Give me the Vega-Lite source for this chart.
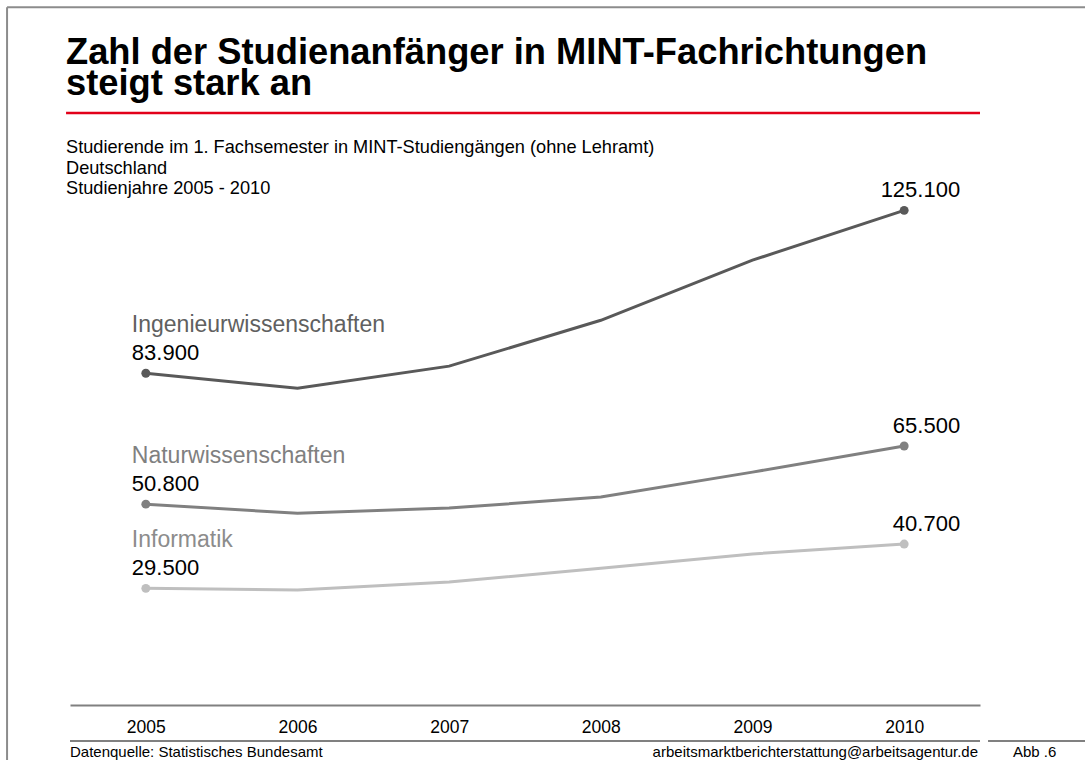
{
  "$schema": "https://vega.github.io/schema/vega-lite/v6.json",
  "width": 910,
  "height": 514,
  "autosize": {"type": "none"},
  "padding": {"left": 70, "top": 191, "right": 105, "bottom": 55},
  "background": "white",
  "config": {
    "view": {"stroke": null},
    "font": "Liberation Sans",
    "locale": {"number": {"decimal": ",", "thousands": ".", "grouping": [3], "currency": ["", " €"]}}
  },
  "title": {
    "text": ["Zahl der Studienanfänger in MINT-Fachrichtungen", "steigt stark an"],
    "subtitle": ["Studierende im 1. Fachsemester in MINT-Studiengängen (ohne Lehramt)", "Deutschland", "Studienjahre 2005 - 2010"],
    "anchor": "start",
    "frame": "group",
    "font": "Liberation Sans",
    "fontSize": 36.3,
    "fontWeight": "bold",
    "color": "#000000",
    "lineHeight": 31.5,
    "subtitleFont": "Liberation Sans",
    "subtitleFontSize": 18.2,
    "subtitleColor": "#000000",
    "subtitleLineHeight": 20.3,
    "subtitlePadding": 37,
    "offset": -191,
    "dx": -4
  },
  "data": {
    "values": [
      {"series": "Ingenieurwissenschaften", "year": 2005, "value": 83900},
      {"series": "Ingenieurwissenschaften", "year": 2006, "value": 80100},
      {"series": "Ingenieurwissenschaften", "year": 2007, "value": 85700},
      {"series": "Ingenieurwissenschaften", "year": 2008, "value": 97300},
      {"series": "Ingenieurwissenschaften", "year": 2009, "value": 112500},
      {"series": "Ingenieurwissenschaften", "year": 2010, "value": 125100},
      {"series": "Naturwissenschaften", "year": 2005, "value": 50800},
      {"series": "Naturwissenschaften", "year": 2006, "value": 48500},
      {"series": "Naturwissenschaften", "year": 2007, "value": 49800},
      {"series": "Naturwissenschaften", "year": 2008, "value": 52600},
      {"series": "Naturwissenschaften", "year": 2009, "value": 58900},
      {"series": "Naturwissenschaften", "year": 2010, "value": 65500},
      {"series": "Informatik", "year": 2005, "value": 29500},
      {"series": "Informatik", "year": 2006, "value": 29100},
      {"series": "Informatik", "year": 2007, "value": 31100},
      {"series": "Informatik", "year": 2008, "value": 34600},
      {"series": "Informatik", "year": 2009, "value": 38200},
      {"series": "Informatik", "year": 2010, "value": 40700}
    ]
  },
  "resolve": {"scale": {"color": "independent"}},
  "layer": [
    {
      "mark": {"type": "line", "strokeWidth": 3},
      "encoding": {
        "x": {"field": "year", "type": "quantitative", "scale": {"domain": [2004.5, 2010.5], "nice": false, "zero": false},
          "axis": {"values": [2005, 2006, 2007, 2008, 2009, 2010], "format": "d", "title": null, "grid": false, "ticks": false,
            "domainColor": "#808080", "domainWidth": 2, "labelFontSize": 17.5, "labelColor": "#000000", "labelFont": "Liberation Sans", "labelPadding": 13}},
        "y": {"field": "value", "type": "quantitative", "scale": {"domain": [0, 130000], "nice": false}, "axis": null},
        "color": {"field": "series", "type": "nominal", "scale": {"domain": ["Ingenieurwissenschaften", "Naturwissenschaften", "Informatik"], "range": ["#595959", "#808080", "#bfbfbf"]}, "legend": null}
      }
    },
    {
      "transform": [{"filter": "datum.year == 2005 || datum.year == 2010"}],
      "mark": {"type": "point", "filled": true, "size": 80, "opacity": 1},
      "encoding": {
        "x": {"field": "year", "type": "quantitative"},
        "y": {"field": "value", "type": "quantitative", "axis": null},
        "color": {"field": "series", "type": "nominal", "scale": {"domain": ["Ingenieurwissenschaften", "Naturwissenschaften", "Informatik"], "range": ["#595959", "#808080", "#bfbfbf"]}, "legend": null}
      }
    },
    {
      "transform": [{"filter": "datum.year == 2005"}],
      "mark": {"type": "text", "align": "left", "baseline": "middle", "dx": -14, "dy": -48, "fontSize": 23, "font": "Liberation Sans"},
      "encoding": {
        "x": {"field": "year", "type": "quantitative"},
        "y": {"field": "value", "type": "quantitative", "axis": null},
        "text": {"field": "series"},
        "color": {"field": "series", "type": "nominal", "scale": {"domain": ["Ingenieurwissenschaften", "Naturwissenschaften", "Informatik"], "range": ["#606060", "#808080", "#8c8c8c"]}, "legend": null}
      }
    },
    {
      "transform": [{"filter": "datum.year == 2005"}],
      "mark": {"type": "text", "align": "left", "baseline": "middle", "dx": -14, "dy": -20, "fontSize": 22, "font": "Liberation Sans", "color": "#000000"},
      "encoding": {
        "x": {"field": "year", "type": "quantitative"},
        "y": {"field": "value", "type": "quantitative", "axis": null},
        "text": {"field": "value", "type": "quantitative", "format": ",d"}
      }
    },
    {
      "transform": [{"filter": "datum.year == 2010"}],
      "mark": {"type": "text", "align": "right", "baseline": "middle", "dx": 56, "dy": -20, "fontSize": 22, "font": "Liberation Sans", "color": "#000000"},
      "encoding": {
        "x": {"field": "year", "type": "quantitative"},
        "y": {"field": "value", "type": "quantitative", "axis": null},
        "text": {"field": "value", "type": "quantitative", "format": ",d"}
      }
    },
    {
      "data": {"values": [{}]},
      "mark": {"type": "rule", "color": "#e2001a", "strokeWidth": 2.5},
      "encoding": {
        "x": {"datum": 2004.474},
        "x2": {"datum": 2010.5},
        "y": {"datum": 149700, "axis": null}
      }
    },
    {
      "data": {"values": [{}]},
      "mark": {"type": "rule", "color": "#8c8c8c", "strokeWidth": 2},
      "encoding": {
        "x": {"datum": 2004.085},
        "x2": {"datum": 2011.7},
        "y": {"datum": 176500, "axis": null}
      }
    },
    {
      "data": {"values": [{}]},
      "mark": {"type": "rule", "color": "#8c8c8c", "strokeWidth": 2},
      "encoding": {
        "x": {"datum": 2004.085},
        "y": {"datum": -20000, "axis": null},
        "y2": {"datum": 176500}
      }
    },
    {
      "data": {"values": [{}]},
      "mark": {"type": "rule", "color": "#808080", "strokeWidth": 2},
      "encoding": {
        "x": {"datum": 2004.5},
        "x2": {"datum": 2010.5},
        "y": {"datum": -9100, "axis": null}
      }
    },
    {
      "data": {"values": [{}]},
      "mark": {"type": "rule", "color": "#808080", "strokeWidth": 2},
      "encoding": {
        "x": {"datum": 2010.553},
        "x2": {"datum": 2011.7},
        "y": {"datum": -9100, "axis": null}
      }
    },
    {
      "data": {"values": [{}]},
      "mark": {"type": "text", "align": "left", "baseline": "middle", "fontSize": 15, "font": "Liberation Sans", "color": "#000000"},
      "encoding": {
        "x": {"datum": 2004.5},
        "y": {"datum": -12000, "axis": null},
        "text": {"value": "Datenquelle: Statistisches Bundesamt"}
      }
    },
    {
      "data": {"values": [{}]},
      "mark": {"type": "text", "align": "right", "baseline": "middle", "fontSize": 15, "font": "Liberation Sans", "color": "#000000"},
      "encoding": {
        "x": {"datum": 2010.487},
        "y": {"datum": -12000, "axis": null},
        "text": {"value": "arbeitsmarktberichterstattung@arbeitsagentur.de"}
      }
    },
    {
      "data": {"values": [{}]},
      "mark": {"type": "text", "align": "center", "baseline": "middle", "fontSize": 15, "font": "Liberation Sans", "color": "#000000"},
      "encoding": {
        "x": {"datum": 2010.86},
        "y": {"datum": -12000, "axis": null},
        "text": {"value": "Abb .6"}
      }
    }
  ]
}
